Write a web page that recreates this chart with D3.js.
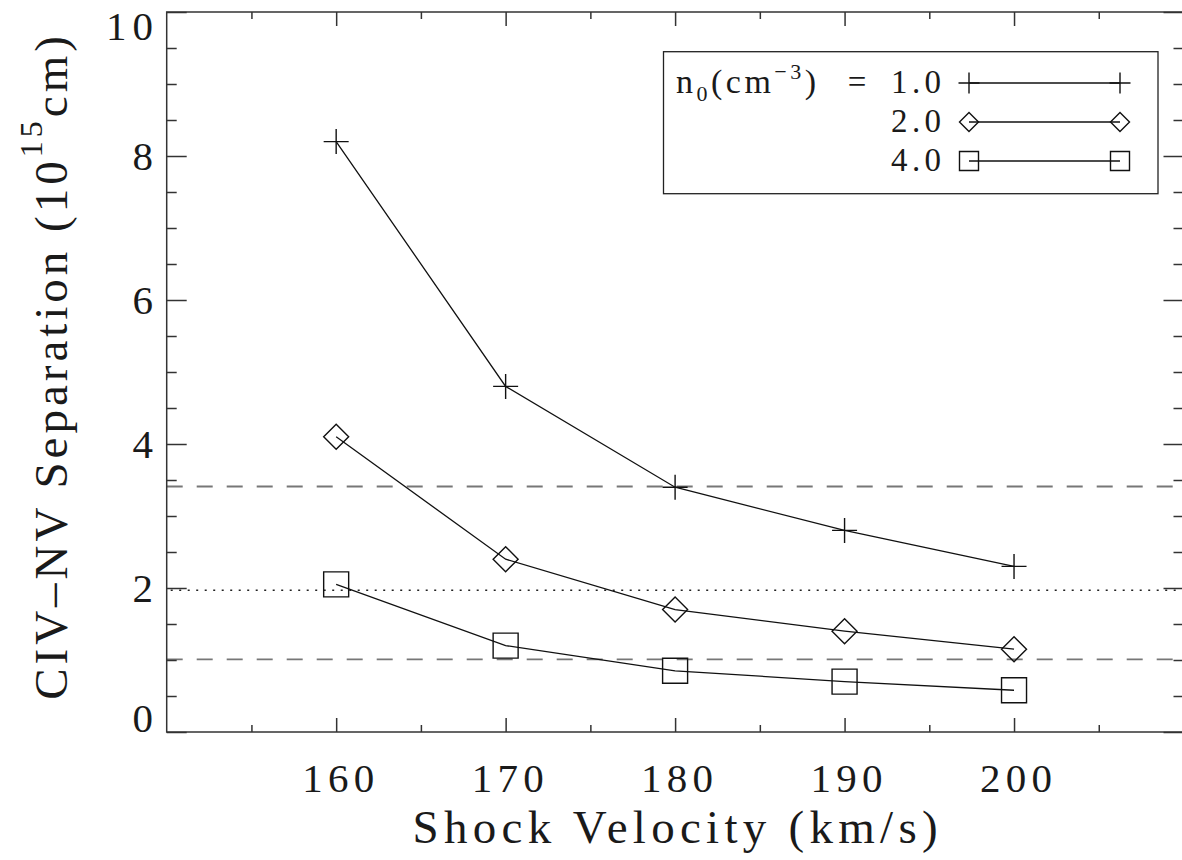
<!DOCTYPE html>
<meta charset="utf-8">
<style>
  body { margin: 0; background: #fff; }
  svg text { font-family: "Liberation Serif", "DejaVu Serif", "Noto Serif", "Tinos", "Times New Roman", "Nimbus Roman", "FreeSerif", Times, serif; fill: #1a1a1a; }
</style>
<body>
<script src="https://d3js.org/d3.v7.min.js"></script>
<script>
  // shock velocity (km/s) and CIV-NV separation (10^15 cm) per density
  var velocity = [160, 170, 180, 190, 200];
  var sep_n1 = [8.2, 4.8, 3.4, 2.8, 2.3];
  var sep_n2 = [4.1, 2.4, 1.7, 1.4, 1.15];
  var sep_n4 = [2.05, 1.2, 0.85, 0.7, 0.58];
  var densities = ["1.0", "2.0", "4.0"];
  var symbols = ["plus", "diamond", "square"];

  // reference levels
  var refDashed = [3.41, 1.01];
  var refDotted = [1.97];

  var xTicks = [160, 170, 180, 190, 200];
  var xMinor = [155, 165, 175, 185, 195, 205];
  var yTicks = [0, 2, 4, 6, 8, 10];

  var series = [sep_n1, sep_n2, sep_n4].map(function (s, i) {
    return {
      label: densities[i],
      symbol: symbols[i],
      values: s.map(function (v, j) { return [velocity[j], v]; })
    };
  });

  var W = 1182, H = 860;
  var plotL = 166.7, plotR = 1183.5, plotT = 12, plotB = 732;

  var x = d3.scaleLinear().domain([150, 210]).range([plotL, plotR]);
  var y = d3.scaleLinear().domain([0, 10]).range([plotB, plotT]);

  var yMinor = d3.range(0.5, 10, 0.5).filter(function (v) { return v % 2 !== 0; });

  var svg = d3.select("body").append("svg")
    .attr("width", W)
    .attr("height", H);

  function symbolPath(type, r) {
    if (type === "plus") return "M" + (-r) + ",0H" + r + "M0," + (-r) + "V" + r;
    if (type === "diamond") return "M0," + (-r) + "L" + r + ",0L0," + r + "L" + (-r) + ",0Z";
    return "M" + (-r) + "," + (-r) + "H" + r + "V" + r + "H" + (-r) + "Z";
  }

  // reference lines
  svg.selectAll(".ref-dash")
    .data(refDashed)
    .enter().append("line")
    .attr("x1", plotL).attr("x2", plotR)
    .attr("y1", function (d) { return y(d); })
    .attr("y2", function (d) { return y(d); })
    .style("stroke", "#777")
    .style("stroke-width", 1.8)
    .style("stroke-dasharray", "16,14");

  svg.selectAll(".ref-dot")
    .data(refDotted)
    .enter().append("line")
    .attr("x1", plotL + 4).attr("x2", plotR)
    .attr("y1", function (d) { return y(d); })
    .attr("y2", function (d) { return y(d); })
    .style("stroke", "#222")
    .style("stroke-width", 1.5)
    .style("stroke-dasharray", "2,6.5");

  // axes (ticks inward on all four sides)
  function styleAxis(g) {
    g.select(".domain").remove();
    g.selectAll("line").style("stroke", "#333").style("stroke-width", 1.5);
  }

  svg.append("g").attr("transform", "translate(0," + plotB + ")")
    .call(d3.axisBottom(x).tickValues(xTicks).tickSize(-14).tickFormat("")).call(styleAxis);
  svg.append("g").attr("transform", "translate(0," + plotB + ")")
    .call(d3.axisBottom(x).tickValues(xMinor).tickSize(-7).tickFormat("")).call(styleAxis);
  svg.append("g").attr("transform", "translate(0," + plotT + ")")
    .call(d3.axisTop(x).tickValues(xTicks).tickSize(-14).tickFormat("")).call(styleAxis);
  svg.append("g").attr("transform", "translate(0," + plotT + ")")
    .call(d3.axisTop(x).tickValues(xMinor).tickSize(-7).tickFormat("")).call(styleAxis);

  svg.append("g").attr("transform", "translate(" + plotL + ",0)")
    .call(d3.axisLeft(y).tickValues(yTicks).tickSize(-20).tickFormat("")).call(styleAxis);
  svg.append("g").attr("transform", "translate(" + plotL + ",0)")
    .call(d3.axisLeft(y).tickValues(yMinor).tickSize(-10).tickFormat("")).call(styleAxis);
  svg.append("g").attr("transform", "translate(" + plotR + ",0)")
    .call(d3.axisRight(y).tickValues(yTicks).tickSize(-20).tickFormat("")).call(styleAxis);
  svg.append("g").attr("transform", "translate(" + plotR + ",0)")
    .call(d3.axisRight(y).tickValues(yMinor).tickSize(-10).tickFormat("")).call(styleAxis);

  svg.append("rect")
    .attr("x", plotL).attr("y", plotT)
    .attr("width", plotR - plotL).attr("height", plotB - plotT)
    .style("fill", "none")
    .style("stroke", "#333")
    .style("stroke-width", 1.5);

  // tick labels
  svg.selectAll(".xlab")
    .data(xTicks)
    .enter().append("text")
    .attr("x", function (d) { return x(d) + 2; })
    .attr("y", plotB + 60)
    .attr("text-anchor", "middle")
    .attr("textLength", 72)
    .attr("lengthAdjust", "spacing")
    .style("font-size", "41px")
    .text(function (d) { return d; });

  svg.selectAll(".ylab")
    .data(yTicks)
    .enter().append("text")
    .attr("x", 153)
    .attr("y", function (d) { return Math.max(plotT + 28, Math.min(plotB, y(d) + 14)); })
    .attr("text-anchor", "end")
    .attr("textLength", function (d) { return d >= 10 ? 47 : null; })
    .attr("lengthAdjust", "spacing")
    .style("font-size", "41px")
    .text(function (d) { return d; });

  // axis titles
  svg.append("text")
    .attr("x", (plotL + plotR) / 2)
    .attr("y", 843)
    .attr("text-anchor", "middle")
    .attr("textLength", 525)
    .attr("lengthAdjust", "spacing")
    .style("font-size", "47px")
    .text("Shock Velocity (km/s)");

  var yt = svg.append("text")
    .attr("transform", "translate(67,366) rotate(-90)")
    .attr("text-anchor", "middle")
    .style("font-size", "47px")
    .style("letter-spacing", "4px");
  yt.append("tspan").text("CIV\u2013NV Separation (10");
  yt.append("tspan").attr("dy", -25).style("font-size", "32px").text("15");
  yt.append("tspan").attr("dy", 25).text("cm)");

  // data lines and markers
  var line = d3.line()
    .x(function (d) { return x(d[0]); })
    .y(function (d) { return y(d[1]); });

  var sg = svg.selectAll(".series")
    .data(series)
    .enter().append("g")
    .attr("class", "series");

  sg.append("path")
    .attr("d", function (d) { return line(d.values); })
    .style("fill", "none")
    .style("stroke", "#111")
    .style("stroke-width", 1.3);

  sg.selectAll(".pt")
    .data(function (d) { return d.values.map(function (v) { return { v: v, s: d.symbol }; }); })
    .enter().append("path")
    .attr("transform", function (d) { return "translate(" + x(d.v[0]) + "," + y(d.v[1]) + ")"; })
    .attr("d", function (d) { return symbolPath(d.s, 12.5); })
    .style("fill", "none")
    .style("stroke", "#111")
    .style("stroke-width", 1.4);

  // legend
  var lg = svg.append("g");
  lg.append("rect")
    .attr("x", 663.5).attr("y", 51.7)
    .attr("width", 494.5).attr("height", 142)
    .style("fill", "#fff")
    .style("stroke", "#222")
    .style("stroke-width", 1.3);

  var rowY = [83, 122, 161];
  var head = lg.append("text")
    .attr("x", 676)
    .attr("y", rowY[0] + 10)
    .style("font-size", "34px")
    .style("letter-spacing", "3.5px");
  head.append("tspan").text("n");
  head.append("tspan").attr("dy", 8).style("font-size", "22px").text("0");
  head.append("tspan").attr("dy", -8).text("(cm");
  head.append("tspan").attr("dy", -14).style("font-size", "22px").text("\u22123");
  head.append("tspan").attr("dy", 14).text(")");

  lg.append("text")
    .attr("x", 857).attr("y", rowY[0] + 10)
    .attr("text-anchor", "middle")
    .style("font-size", "33px")
    .text("=");

  var rows = lg.selectAll(".lrow")
    .data(series)
    .enter().append("g")
    .attr("transform", function (d, i) { return "translate(0," + rowY[i] + ")"; });

  rows.append("text")
    .attr("x", 941).attr("y", 10)
    .attr("text-anchor", "end")
    .attr("textLength", 50)
    .attr("lengthAdjust", "spacing")
    .style("font-size", "33px")
    .text(function (d) { return d.label; });

  rows.append("line")
    .attr("x1", 969).attr("x2", 1120)
    .style("stroke", "#111")
    .style("stroke-width", 1.3);

  rows.selectAll(".lm")
    .data(function (d) { return [[969, d.symbol], [1120, d.symbol]]; })
    .enter().append("path")
    .attr("transform", function (d) { return "translate(" + d[0] + ",0)"; })
    .attr("d", function (d) { return symbolPath(d[1], d[1] === "plus" ? 10.5 : 9.5); })
    .style("fill", "none")
    .style("stroke", "#111")
    .style("stroke-width", 1.4);
</script>
</body>
